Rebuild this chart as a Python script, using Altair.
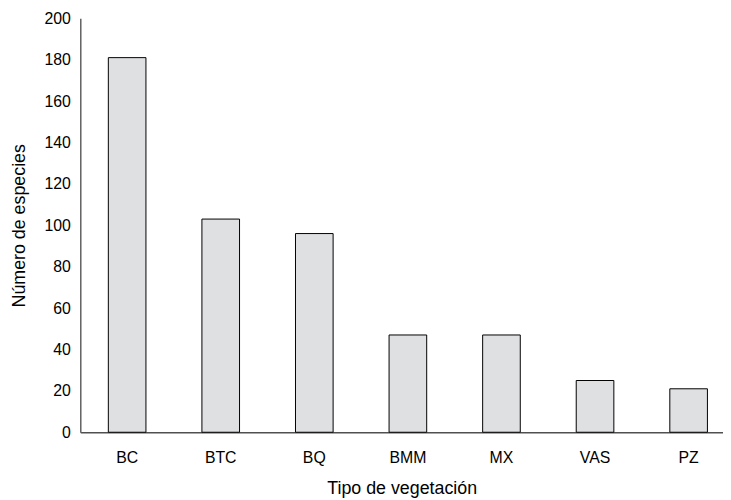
import altair as alt
import pandas as pd

categorias = ["BC", "BTC", "BQ", "BMM", "MX", "VAS", "PZ"]
especies = [181, 103, 96, 47, 47, 25, 21]

df = pd.DataFrame({"tipo": categorias, "n": especies})

font = "Liberation Sans"

chart = alt.Chart(df).mark_bar(
    fill="#dfe0e2", stroke="#000000", strokeWidth=1
).encode(
    x=alt.X("tipo:N", sort=categorias, title="Tipo de vegetación",
            scale=alt.Scale(paddingInner=0.598, paddingOuter=0.233, align=0.643,
                            round=False),
            axis=alt.Axis(labelAngle=0, ticks=False, labelPadding=18,
                          titlePadding=14, domainColor="#505050",
                          domainWidth=1.5)),
    y=alt.Y("n:Q", title="Número de especies",
            scale=alt.Scale(domain=[0, 200]),
            axis=alt.Axis(values=list(range(0, 201, 20)), ticks=False,
                          grid=False, labelPadding=10, titlePadding=16,
                          domainColor="#606060", domainWidth=1.5)),
).properties(
    width=649, height=418, padding={"left": 2, "top": 0, "right": 0, "bottom": 0}
).configure_axis(
    labelFont=font, titleFont=font, labelFontSize=16, titleFontSize=18,
    labelColor="#000000", titleColor="#000000", titleFontWeight="normal"
).configure_view(stroke=None)

chart.save("out.html", embed_options={"renderer": "svg", "actions": False})
